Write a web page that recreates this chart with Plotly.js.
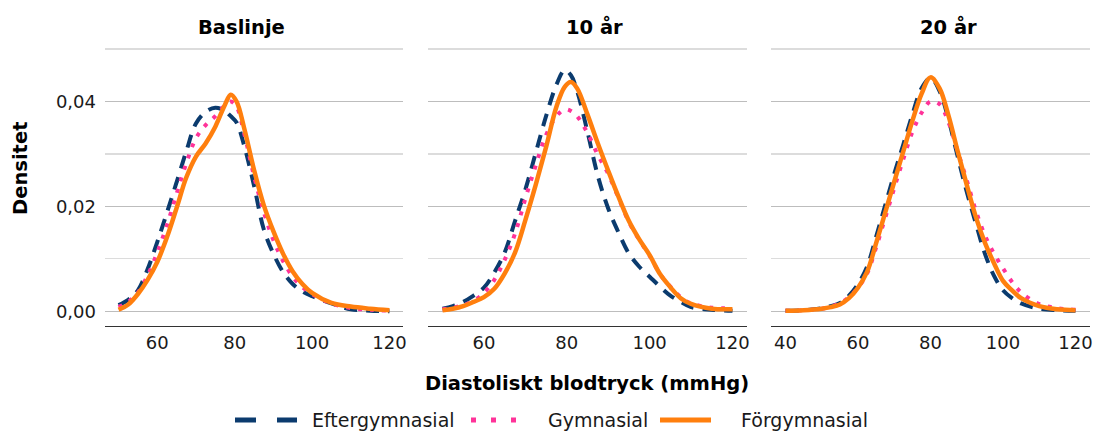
<!DOCTYPE html>
<html>
<head>
<meta charset="utf-8">
<script src="https://cdn.plot.ly/plotly-3.0.1.min.js"></script>
<style>html,body{margin:0;padding:0;background:#fff;}#chart{width:1094px;height:434px;}</style>
</head>
<body>
<div id="chart"></div>
<script>
// Panel titles and series names
const panelTitles = ["Baslinje", "10 år", "20 år"];
const seriesNames = ["Eftergymnasial", "Gymnasial", "Förgymnasial"];

// Panel 1: Baslinje
const x1 = [50,52.5,55,57.5,60,62.5,65,67.5,70,72.5,75,77.5,79,80.5,82.5,85,87.5,90,92.5,95,97.5,100,105,110,115,120];
const eft1 = [0.0012,0.0022,0.0040,0.0080,0.0132,0.0188,0.0246,0.0305,0.0358,0.0380,0.0388,0.0382,0.0372,0.0360,0.0315,0.0240,0.0157,0.0110,0.0075,0.0052,0.0038,0.0029,0.0015,0.0004,0.0001,0.0000];
const gym1 = [0.0008,0.0018,0.0036,0.0068,0.0112,0.0164,0.0224,0.0282,0.0330,0.0355,0.0372,0.0393,0.0400,0.0390,0.0338,0.0258,0.0190,0.0136,0.0096,0.0066,0.0046,0.0033,0.0015,0.0006,0.0003,0.0001];
const for1 = [0.0003,0.0013,0.0033,0.0060,0.0094,0.0141,0.0197,0.0255,0.0295,0.0320,0.0352,0.0394,0.0413,0.0400,0.0348,0.0270,0.0203,0.0153,0.0110,0.0076,0.0052,0.0035,0.0016,0.0009,0.0005,0.0002];

// Panel 2: 10 år
const x2 = [50,52.5,55,57.5,60,62.5,65,67.5,70,72.5,75,77.5,79.5,81,82.5,85,87.5,90,92.5,95,97.5,100,102.5,105,107.5,110,115,120];
const eft2 = [0.0005,0.0010,0.0018,0.0030,0.0045,0.0074,0.0112,0.0172,0.0232,0.0302,0.0372,0.0432,0.0460,0.0450,0.0420,0.0342,0.0258,0.0196,0.0150,0.0110,0.0085,0.0066,0.0047,0.0030,0.0018,0.0008,0.0003,0.0001];
const gym2 = [0.0004,0.0007,0.0012,0.0020,0.0035,0.0060,0.0098,0.0148,0.0215,0.0278,0.0336,0.0372,0.0385,0.0382,0.0372,0.0340,0.0298,0.0262,0.0216,0.0170,0.0136,0.0106,0.0071,0.0047,0.0027,0.0015,0.0007,0.0006];
const for2 = [0.0002,0.0005,0.0010,0.0018,0.0027,0.0043,0.0072,0.0112,0.0174,0.0241,0.0313,0.0390,0.0428,0.0437,0.0425,0.0375,0.0320,0.0268,0.0218,0.0172,0.0137,0.0107,0.0071,0.0046,0.0025,0.0014,0.0005,0.0004];

// Panel 3: 20 år
const x3 = [40,45,50,52.5,55,57.5,60,62.5,65,67.5,70,72.5,75,77.5,80,82.5,85,87.5,90,92.5,95,97.5,100,102.5,105,110,115,120];
const eft3 = [0.0001,0.0002,0.0006,0.0010,0.0016,0.0030,0.0052,0.0085,0.0142,0.0202,0.0262,0.0318,0.0375,0.0425,0.0445,0.0420,0.0365,0.0295,0.0228,0.0168,0.0110,0.0068,0.0040,0.0025,0.0015,0.0005,0.0002,0.0001];
const gym3 = [0.0001,0.0002,0.0005,0.0009,0.0015,0.0027,0.0045,0.0072,0.0122,0.0178,0.0235,0.0290,0.0342,0.0378,0.0400,0.0395,0.0360,0.0305,0.0250,0.0192,0.0145,0.0110,0.0082,0.0056,0.0036,0.0014,0.0006,0.0003];
const for3 = [0.0001,0.0002,0.0005,0.0008,0.0013,0.0025,0.0045,0.0075,0.0130,0.0188,0.0247,0.0305,0.0363,0.0414,0.0446,0.0425,0.0372,0.0305,0.0241,0.0180,0.0131,0.0092,0.0058,0.0040,0.0025,0.0010,0.0004,0.0002];

// Tick labels
const yTickVals = [0, 0.02, 0.04];
const yTickText = ["0,00", "0,02", "0,04"];

const colors = ["#0b3b6e", "#ff3399", "#ff7f0e"];
const dashes = ["13px,9px", "4px,8px", "solid"];
const widths = [4, 4, 4.5];

const panels = [
  {x: x1, ys: [eft1, gym1, for1]},
  {x: x2, ys: [eft2, gym2, for2]},
  {x: x3, ys: [eft3, gym3, for3]}
];

const traces = [];
panels.forEach((p, i) => {
  p.ys.forEach((y, s) => {
    traces.push({
      x: p.x, y: y, type: "scatter", mode: "lines",
      name: seriesNames[s], showlegend: false,
      xaxis: i === 0 ? "x" : "x" + (i + 1),
      yaxis: i === 0 ? "y" : "y" + (i + 1),
      line: {color: colors[s], width: widths[s], dash: dashes[s], shape: "spline", smoothing: 1}
    });
  });
});

const font = "DejaVu Sans, Verdana, sans-serif";
const L = 105, R = 4, T = 48, B = 108, W = 1094, H = 434;
const pw = W - L - R, ph = H - T - B;
const px = v => (v - L) / pw;
const py = v => (H - B - v) / ph;

function xax(dom, range, ticks) {
  return {domain: dom, range: range, tickvals: ticks, ticktext: ticks.map(String),
    showgrid: false, zeroline: false, showline: true, linecolor: "#333", linewidth: 1.4,
    ticks: "", tickfont: {family: font, size: 18, color: "#1a1a1a"}, ticklabelstandoff: 0, fixedrange: true};
}
function yax(anchor, showLabels) {
  return {anchor: anchor, range: [-0.0028, 0.0502], tickvals: yTickVals, ticktext: yTickText,
    showticklabels: showLabels, showgrid: true, gridcolor: "#bdbdbd", gridwidth: 1.4,
    minor: {tickvals: [0.01, 0.03, 0.05], showgrid: true, gridcolor: "#dcdcdc", gridwidth: 1.2},
    zeroline: false, showline: false, ticks: "", ticklabelstandoff: 8,
    tickfont: {family: font, size: 18, color: "#1a1a1a"}, fixedrange: true};
}

// Legend (keys + labels below the panels)
const legendKeys = [
  {x0: 235, x1: 297, text: 310},
  {x0: 471, x1: 516, text: 546},
  {x0: 660, x1: 711, text: 739}
];
const legendDashes = ["21px,21px", "5px,15px", "solid"];
const legendY = 420;

const shapes = legendKeys.map((k, s) => ({
  type: "line", xref: "paper", yref: "paper",
  x0: px(k.x0), x1: px(k.x1), y0: py(legendY), y1: py(legendY),
  line: {color: colors[s], width: 5, dash: legendDashes[s]}
}));

const tf = {family: font, size: 19.5, color: "#000"};
const annotations = [
  {text: "<b>" + panelTitles[0] + "</b>", x: px(241), y: py(27)},
  {text: "<b>" + panelTitles[1] + "</b>", x: px(594), y: py(27)},
  {text: "<b>" + panelTitles[2] + "</b>", x: px(948), y: py(27)},
  {text: "<b>Densitet</b>", x: px(20), y: py(169), textangle: -90},
  {text: "<b>Diastoliskt blodtryck (mmHg)</b>", x: px(587), y: py(383)}
].map(a => Object.assign({xref: "paper", yref: "paper", showarrow: false, xanchor: "center", yanchor: "middle", font: tf}, a));

legendKeys.forEach((k, s) => {
  annotations.push({text: seriesNames[s], xref: "paper", yref: "paper", x: px(k.text), y: py(legendY),
    showarrow: false, xanchor: "left", yanchor: "middle", font: {family: font, size: 19, color: "#1a1a1a"}});
});

const layout = {
  width: W, height: H,
  margin: {l: L, r: R, t: T, b: B},
  paper_bgcolor: "#fff", plot_bgcolor: "#fff",
  font: {family: font, color: "#000"},
  showlegend: false,
  xaxis: xax([0, px(403)], [46.5, 123.5], [60, 80, 100, 120]),
  xaxis2: xax([px(428), px(747)], [46.5, 123.5], [60, 80, 100, 120]),
  xaxis3: xax([px(771), 1], [36, 124], [40, 60, 80, 100, 120]),
  yaxis: yax("x", true),
  yaxis2: yax("x2", false),
  yaxis3: yax("x3", false),
  shapes: shapes,
  annotations: annotations
};

Plotly.newPlot("chart", traces, layout, {displayModeBar: false, staticPlot: true});
</script>
</body>
</html>
